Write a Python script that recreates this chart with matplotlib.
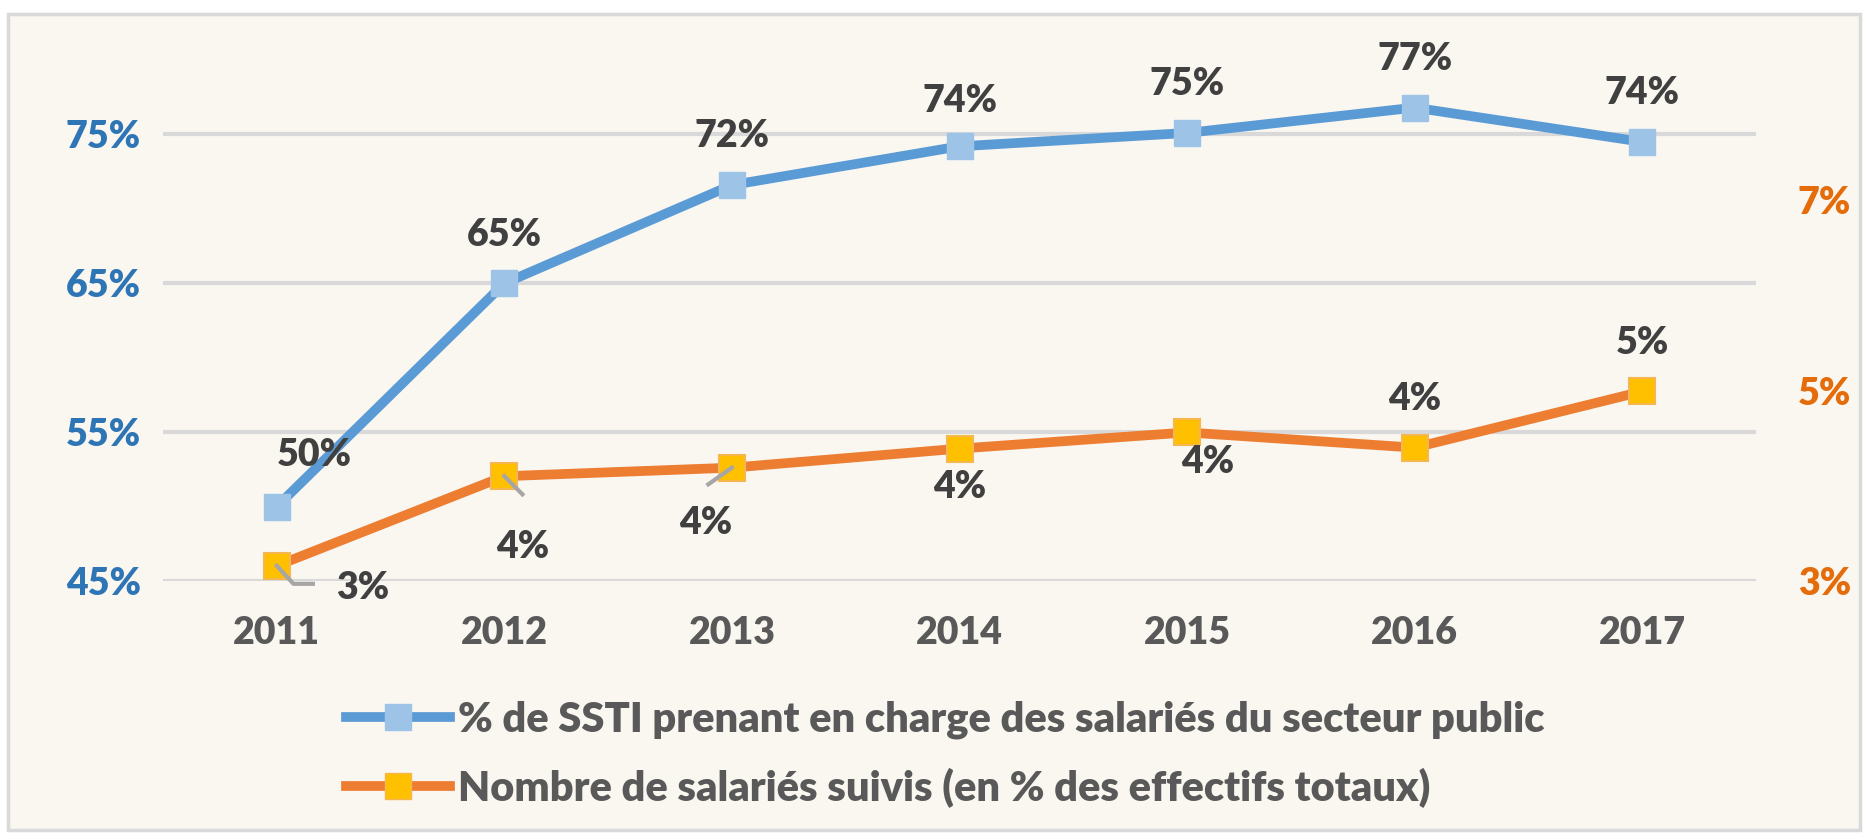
import matplotlib.pyplot as plt
from matplotlib.patches import Rectangle
from matplotlib.lines import Line2D
from matplotlib.ticker import FixedLocator
import matplotlib.transforms as mtransforms

years = ["2011", "2012", "2013", "2014", "2015", "2016", "2017"]
ssti_public = [0.500, 0.650, 0.716, 0.742, 0.751, 0.768, 0.745]
ssti_labels = ["50%", "65%", "72%", "74%", "75%", "77%", "74%"]
suivis = [0.0316, 0.0410, 0.0419, 0.0439, 0.0456, 0.0440, 0.0499]
suivis_labels = ["3%", "4%", "4%", "4%", "4%", "4%", "5%"]

left_ticks = [0.45, 0.55, 0.65, 0.75]
right_ticks = [0.03, 0.05, 0.07]

name_blue = "% de SSTI prenant en charge des salariés du secteur public"
name_orange = "Nombre de salariés suivis (en % des effectifs totaux)"

BG = "#FAF6F0"
BLUE = "#5B9BD5"
BLUE_MK = "#9DC3E6"
ORANGE = "#ED7D31"
ORANGE_MK = "#FFC000"
TXT = "#404040"
GREY = "#A6A6A6"

plt.rcParams['font.family'] = ['Lato', 'DejaVu Sans']
WT = "heavy"
FS = 27
FS_LEG = 30

W, H = 1868, 838
fig = plt.figure(figsize=(W / 100, H / 100), dpi=100, facecolor="white")
fig.patches.append(Rectangle((8 / W, 8 / H), 1852 / W, 816 / H, transform=fig.transFigure,
                             facecolor=BG, edgecolor="#D9D9D9", lw=2.5, zorder=-5))

ax = fig.add_axes([163 / W, 1 - 581 / H, (1756 - 163) / W, (581 - 60) / H])
ax.set_facecolor("none")
ax2 = ax.twinx()
ax2.set_facecolor("none")
x = list(range(len(years)))

ax.set_xlim(-0.5, len(years) - 0.5)
ax.set_ylim(0.45, 0.80)
ax2.set_ylim(0.03, 0.0847)

for a in (ax, ax2):
    for s in a.spines.values():
        s.set_visible(False)
    a.tick_params(length=0)

ax.yaxis.set_major_locator(FixedLocator(left_ticks))
ax.set_yticklabels([f"{int(round(t * 100))}%" for t in left_ticks], color="#2E75B6", fontsize=FS, fontweight=WT)
ax.tick_params(axis="y", pad=16)
ax2.yaxis.set_major_locator(FixedLocator(right_ticks))
ax2.set_yticklabels([f"{int(round(t * 100))}%" for t in right_ticks], color="#E46C0A", fontsize=FS, fontweight=WT)
ax2.tick_params(axis="y", pad=30)
ax.set_xticks(x)
ax.set_xticklabels(years, color="#595959", fontsize=FS, fontweight=WT)
ax.tick_params(axis="x", pad=25)
ax.grid(axis="y", color="#D9D9D9", lw=3)
ax.set_axisbelow(True)

ax.plot(x, ssti_public, color=BLUE, lw=7, marker="s", ms=19, mfc=BLUE_MK, mec=BLUE_MK,
        solid_joinstyle="round", zorder=3)
ax2.plot(x, suivis, color=ORANGE, lw=7, marker="s", ms=19, mfc=ORANGE_MK, mec="#F4B84E",
         mew=1.5, solid_joinstyle="round", zorder=3)

# etiquettes bleues : au-dessus
blue_off = [(27, 37), (0, 35), (0, 35), (0, 33), (0, 35), (0, 35), (0, 35)]
for i, (v, t) in enumerate(zip(ssti_public, ssti_labels)):
    ax.annotate(t, (x[i], v), xytext=blue_off[i], textcoords="offset points",
                ha="center", va="center", fontsize=FS, fontweight=WT, color=TXT, zorder=5)

# etiquettes orange
orange_off = [(62, -16), (13, -51), (-19, -40), (0, -28), (15, -21), (0, 35), (0, 35)]
for i, (v, t) in enumerate(zip(suivis, suivis_labels)):
    ax2.annotate(t, (x[i], v), xytext=orange_off[i], textcoords="offset points",
                 ha="center", va="center", fontsize=FS, fontweight=WT, color=TXT, zorder=5)

# lignes de rappel
def leader(i, pts):
    xs, ys = [], []
    for dx, dy in pts:
        tr = mtransforms.offset_copy(ax2.transData, fig=fig, x=dx, y=dy, units="points")
        px, py = tr.transform((x[i], suivis[i]))
        xs.append(px)
        ys.append(py)
    fig.add_artist(Line2D(xs, ys, color=GREY, lw=3, transform=None, zorder=6))

leader(0, [(0, 0), (12, -13), (26, -13)])
leader(1, [(0, 0), (13, -13)])
leader(2, [(0, 0), (-17, -12)])

handles = [
    Line2D([], [], color=BLUE, lw=7, marker="s", ms=19, mfc=BLUE_MK, mec=BLUE_MK),
    Line2D([], [], color=ORANGE, lw=7, marker="s", ms=19, mfc=ORANGE_MK, mec="#F4B84E"),
]
leg = fig.legend(handles, [name_blue, name_orange], loc="center", bbox_to_anchor=(0.506, 0.10),
                 frameon=False, handlelength=2.5, handletextpad=0.2,
                 labelspacing=0.7, prop={"weight": WT, "size": FS_LEG})
for t in leg.get_texts():
    t.set_color("#595959")

fig.savefig("out.png", dpi=100, facecolor=fig.get_facecolor())
